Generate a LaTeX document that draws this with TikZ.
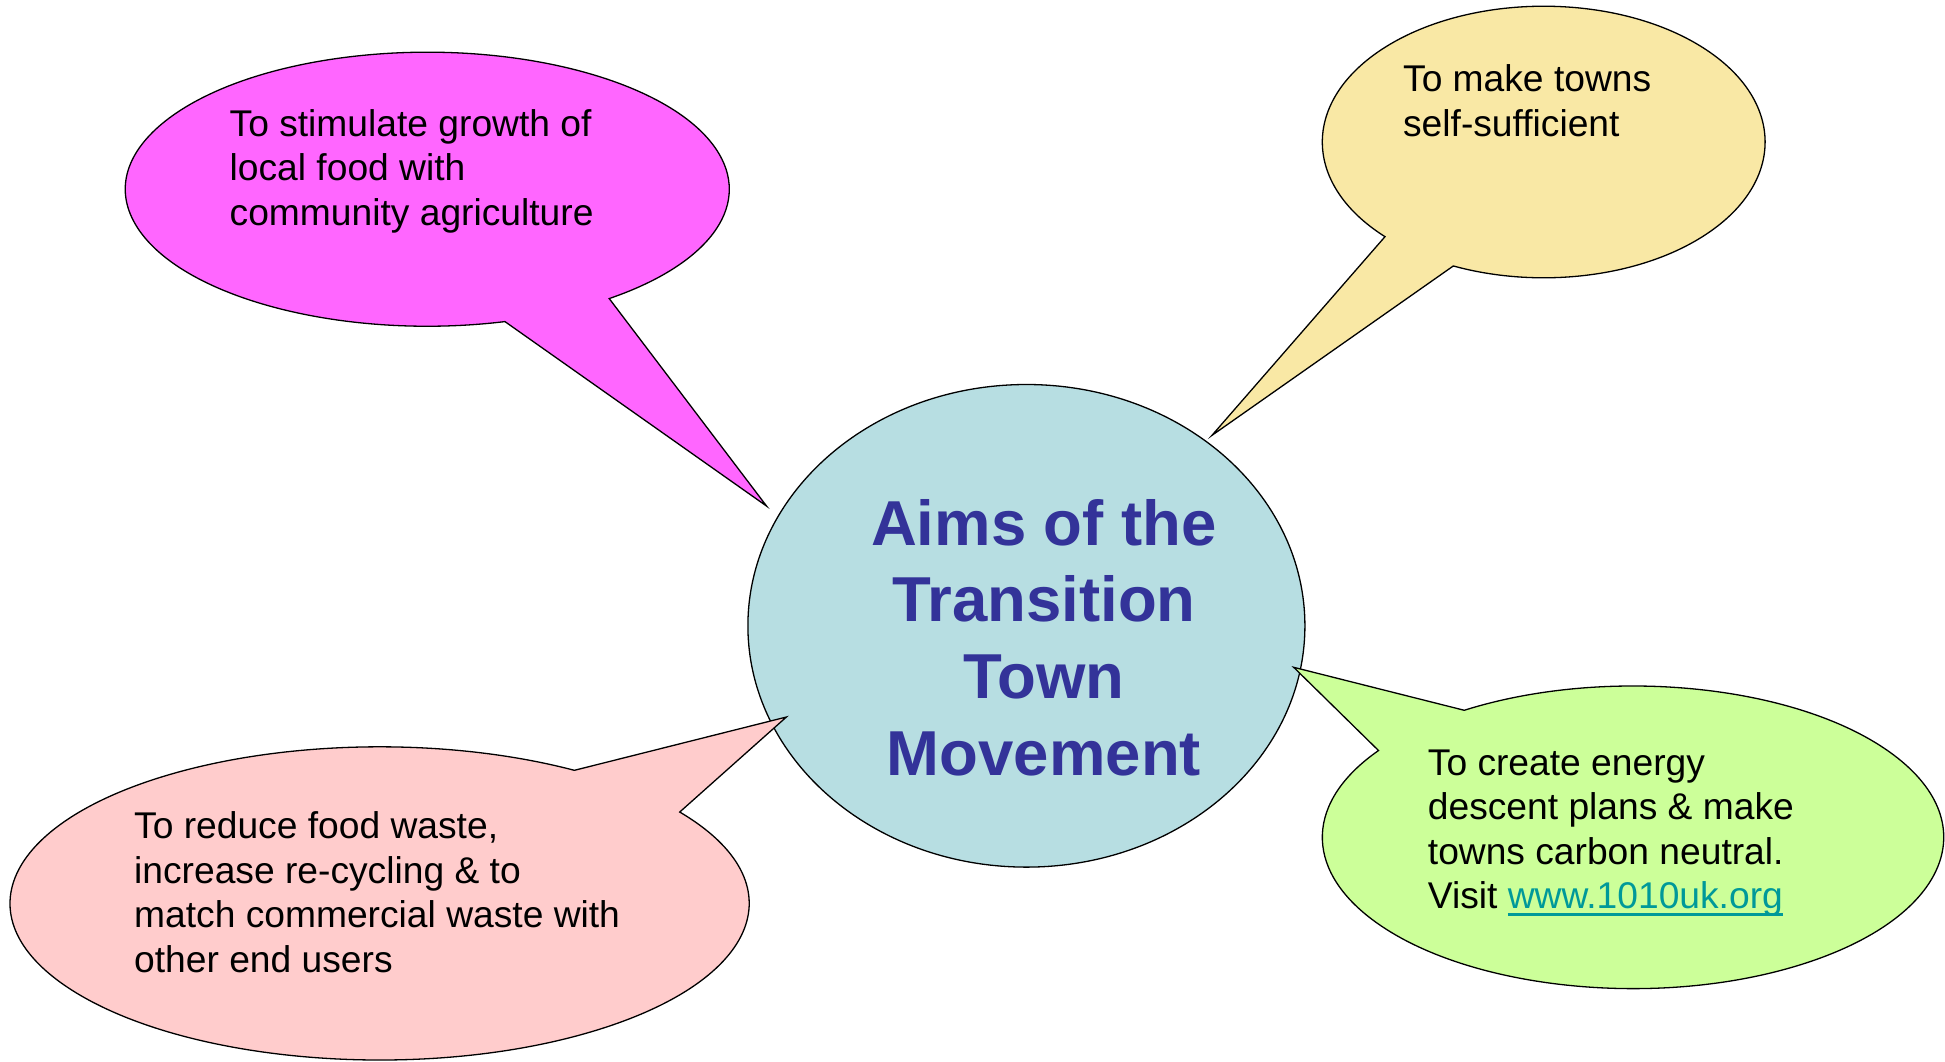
\documentclass[tikz,border=0pt]{standalone}
\usepackage{fontspec}
\setmainfont{Liberation Sans}
\definecolor{pinkfill}{HTML}{FF66FF}
\definecolor{yellowfill}{HTML}{F9E8A5}
\definecolor{greenfill}{HTML}{CCFF99}
\definecolor{salmonfill}{HTML}{FFCCCC}
\definecolor{centerfill}{HTML}{B7DEE2}
\definecolor{titleblue}{HTML}{333399}
\definecolor{linkteal}{HTML}{009999}
\newcommand\linkul[1]{\setbox0\hbox{#1}\rlap{\rule[-7.5pt]{\wd0}{3pt}}\box0}
\begin{document}
\begin{tikzpicture}[x=1pt,y=-1pt,
  bubble/.style={draw=black, line width=1.3pt, line join=miter},
  bodytext/.style={anchor=base west, inner sep=0pt, align=left,
    font=\fontsize{37.2}{44.6}\selectfont},
  titletext/.style={anchor=base, inner sep=0pt, align=center, text=titleblue,
    font=\fontsize{63.5}{76.7}\selectfont\bfseries}]
\useasboundingbox (0,0) rectangle (1945,1061);
\fill[white] (0,0) rectangle (1945,1061);

% central ellipse
\coordinate (centerC) at (1026.4,625.8);
\draw[bubble, fill=centerfill] (centerC) ellipse [x radius=278.5, y radius=241.3];
\node[titletext] (title) at (1044,775.1) {Aims of the\\Transition\\Town\\Movement};

% pink bubble
\coordinate (pinkC) at (427.3,189.2);
\coordinate (pinkTip) at (766.6,506.1);
\draw[bubble, fill=pinkfill] (pinkTip) -- ([shift={(75.1:302 and 137)}]pinkC)
  arc[start angle=75.1, end angle=412.96, x radius=302, y radius=137] -- cycle;
\node[bodytext] (pinktext) at (229.5,225.5) {To stimulate growth of\\local food with\\community agriculture};

% yellow bubble
\coordinate (yellowC) at (1543.7,142);
\coordinate (yellowTip) at (1211.9,435.4);
\draw[bubble, fill=yellowfill] (yellowTip) -- ([shift={(135.8:221.4 and 135.8)}]yellowC)
  arc[start angle=135.8, end angle=474.1, x radius=221.4, y radius=135.8] -- cycle;
\node[bodytext] (yellowtext) at (1402.9,136.2) {To make towns\\self-sufficient};

% green bubble
\coordinate (greenC) at (1633,837.3);
\coordinate (greenTip) at (1293.7,667.3);
\draw[bubble, fill=greenfill] (greenTip) -- ([shift={(237.1:310.7 and 151.3)}]greenC)
  arc[start angle=237.1, end angle=575, x radius=310.7, y radius=151.3] -- cycle;
\node[bodytext] (greentext) at (1427.7,908.9) {To create energy\\descent plans \& make\\towns carbon neutral.\\Visit \textcolor{linkteal}{\linkul{www.1010uk.org}}};

% salmon bubble
\coordinate (salmonC) at (379.6,903.4);
\coordinate (salmonTip) at (786.4,717);
\draw[bubble, fill=salmonfill] (salmonTip) -- ([shift={(-35.7:369.6 and 156.6)}]salmonC)
  arc[start angle=-35.7, end angle=301.8, x radius=369.6, y radius=156.6] -- cycle;
\node[bodytext] (salmontext) at (134,972.2) {To reduce food waste,\\increase re-cycling \& to\\match commercial waste with\\other end users};
\end{tikzpicture}
\end{document}
